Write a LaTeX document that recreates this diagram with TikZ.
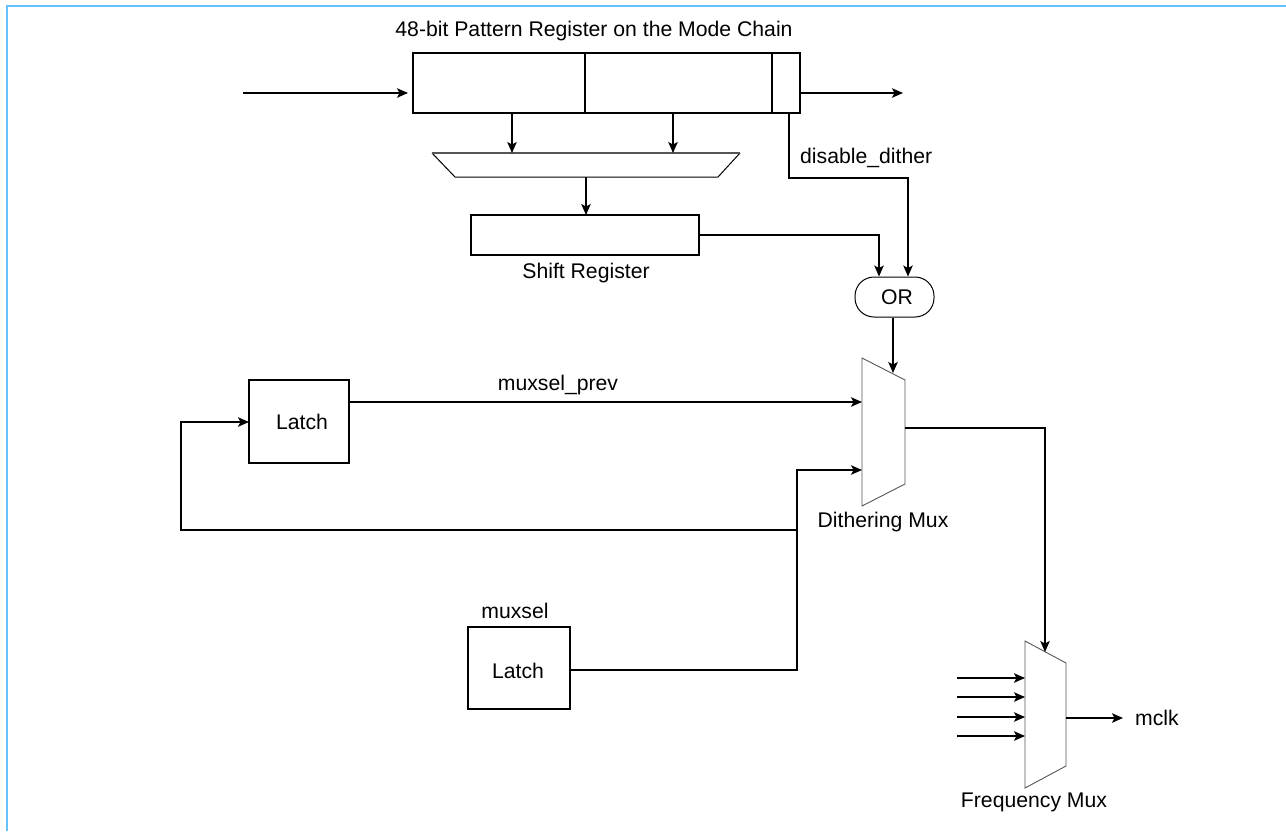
\documentclass[tikz,border=0pt]{standalone}
\usepackage{fontspec}
\setmainfont{Liberation Sans}
\usetikzlibrary{arrows.meta,calc}
\definecolor{framecol}{HTML}{66C2FF}
\definecolor{muxline}{HTML}{555555}
\begin{document}
\begin{tikzpicture}[x=1pt,y=-1pt,
  wire/.style={line width=1.2pt},
  arr/.style={wire,-{Stealth[length=11pt,width=9.5pt,inset=2.5pt]}},
  box/.style={draw,line width=1.2pt,inner sep=0pt,outer sep=0pt},
  lbl/.style={inner sep=0pt,font=\fontsize{21.2}{24}\selectfont},
  muxshape/.style={draw=muxline,line width=0.9pt}]
\useasboundingbox (0,0) rectangle (1286,831);
\draw[framecol,line width=2.2pt] (7,831) -- (7,6) -- (1286,6);

% pattern register on the mode chain
\node[lbl] (title) at (594,31) {48-bit Pattern Register on the Mode Chain};
\node[box,minimum width=387pt,minimum height=60pt,anchor=north west] (preg) at (413,53) {};
\draw[wire] (585,53) -- (585,113);
\draw[wire] (772,53) -- (772,113);
\coordinate (chainin) at (243,93);
\coordinate (chainout) at (903,93);
\draw[arr] (chainin) -- ([xshift=-5pt]preg.west |- chainin);
\draw[arr] (preg.east |- chainout) -- (chainout);

% selector between the two halves
\coordinate (selA) at (432,153);
\coordinate (selB) at (740,153);
\coordinate (selC) at (718,177);
\coordinate (selD) at (455,177);
\draw[line width=1pt] (selB) -- (selC) -- (selD) -- (selA);
\draw[muxline,line width=1.2pt] (selA) -- (selB);
\draw[arr] (512,113) -- (512,153);
\draw[arr] (673,113) -- (673,153);

% shift register
\node[box,minimum width=228pt,minimum height=40pt,anchor=north west] (sreg) at (471,215) {};
\node[lbl] (sreglbl) at (586,273) {Shift Register};
\draw[arr] (586,177) -- (sreg.north -| 586,0);

% OR gate
\node[draw,line width=1pt,rounded corners=19pt,minimum width=79pt,minimum height=40pt,inner sep=0pt] (orgate) at (894.5,297) {};
\node[lbl] (orlbl) at (897,297) {OR};
\draw[arr] (sreg.east) -| (orgate.north -| 879,0);
\draw[arr] (789,113) |- (908,178) -- (orgate.north -| 908,0);
\node[lbl,anchor=west] (dislbl) at (800,158) {disable\_dither};

% dithering mux
\coordinate (dmA) at (862,358);
\coordinate (dmB) at (905,380);
\coordinate (dmC) at (905,484);
\coordinate (dmD) at (862,506);
\draw[muxshape] (dmA) -- (dmB) -- (dmC) -- (dmD) -- cycle;
\node[lbl] (dmlbl) at (883,522) {Dithering Mux};
\draw[arr] (orgate.south -| 893,0) -- (893,373);

% latches
\node[box,minimum width=100pt,minimum height=83pt,anchor=north west] (latchA) at (249,380) {};
\node[lbl] (latchAlbl) at (302,422) {Latch};
\node[box,minimum width=102pt,minimum height=82pt,anchor=north west] (latchB) at (468,627) {};
\node[lbl] (latchBlbl) at (518,671) {Latch};
\node[lbl] (muxsellbl) at (515,611) {muxsel};

\draw[arr] (latchA.east |- 0,402) -- (862,402);
\node[lbl] (prevlbl) at (558,385) {muxsel\_prev};

\coordinate (split) at (797,530);
\draw[arr] (latchB.east |- 0,670) -- (797,670) -- (797,470) -- (862,470);
\draw[arr] (split) -- (181,530) -- (181,422) -- (latchA.west |- 0,422);

% frequency mux
\coordinate (fmA) at (1025,641);
\coordinate (fmB) at (1066,663);
\coordinate (fmC) at (1066,766);
\coordinate (fmD) at (1025,788);
\draw[muxshape] (fmA) -- (fmB) -- (fmC) -- (fmD) -- cycle;
\node[lbl] (fmlbl) at (1034,802) {Frequency Mux};
\draw[arr] (905,428) -- (1045,428) -- (1045,652);
\foreach \yy in {678,697,717,736}
  \draw[arr] (957,\yy) -- (1025,\yy);
\coordinate (clkout) at (1123,718);
\draw[arr] (1066,718) -- (clkout);
\node[lbl,anchor=west] (mclk) at (1135,718) {mclk};
\end{tikzpicture}
\end{document}
